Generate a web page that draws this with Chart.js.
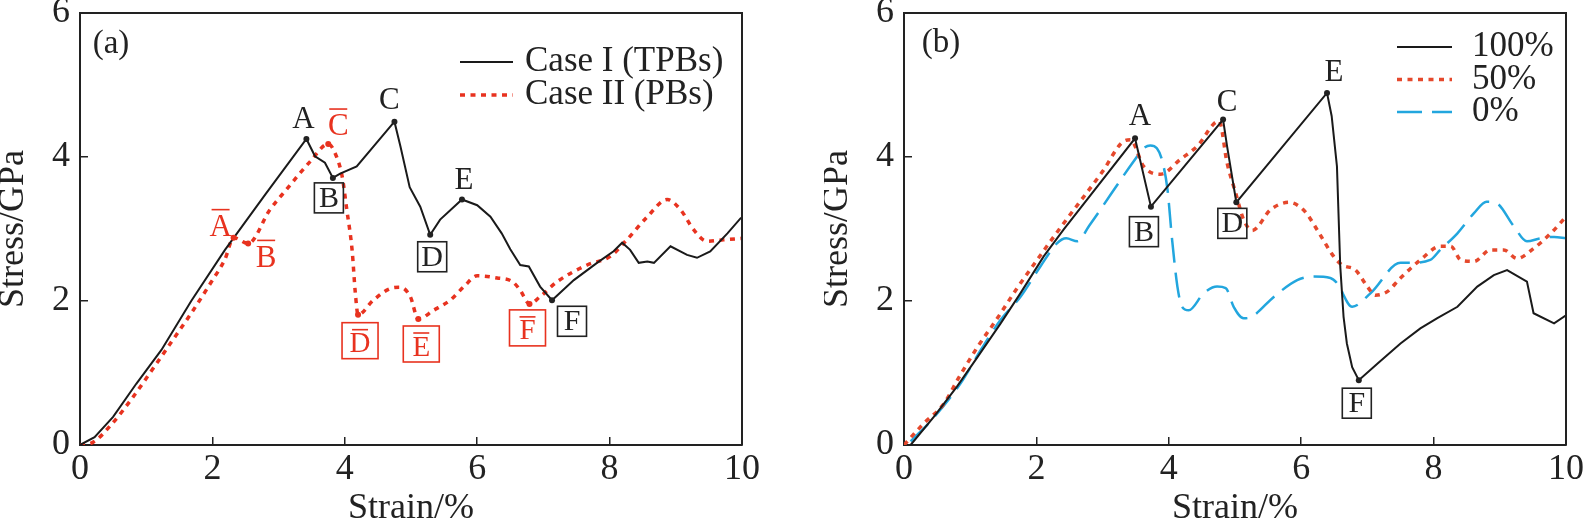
<!DOCTYPE html>
<html>
<head>
<meta charset="utf-8">
<script src="https://cdn.jsdelivr.net/npm/chart.js@4.4.0/dist/chart.umd.min.js"></script>
<style>
  html, body { margin: 0; padding: 0; background: #fff; width: 1583px; height: 521px; overflow: hidden; }
  #wrap { position: relative; width: 1583px; height: 521px; overflow: hidden; }
  .panel { position: absolute; top: 0; height: 521px; }
  .panel canvas { display: block; }
  #panelA { left: 0; width: 760px; }
  #panelB { left: 824px; width: 759px; }
</style>
</head>
<body>
<div id="wrap">
  <div class="panel" id="panelA"><canvas id="chartA"></canvas></div>
  <div class="panel" id="panelB"><canvas id="chartB"></canvas></div>
</div>
<script>
// ---- panel (a): Case I (TPBs) vs Case II (PBs)
const caseIStrain = [0, 0.22, 0.5, 0.85, 1.23, 1.68, 2.19, 2.8, 3.42, 3.55, 3.70, 3.82, 3.93, 4.18, 4.75, 4.84, 4.98, 5.14, 5.29, 5.44, 5.77, 6.0, 6.2, 6.37, 6.5, 6.65, 6.78, 6.95, 7.13, 7.46, 7.81, 8.06, 8.19, 8.31, 8.44, 8.57, 8.67, 8.92, 9.17, 9.32, 9.52, 9.78, 9.98, 10];
const caseIStress = [0, 0.11, 0.39, 0.85, 1.32, 2.0, 2.71, 3.48, 4.25, 4.01, 3.92, 3.71, 3.77, 3.87, 4.49, 4.15, 3.58, 3.31, 2.92, 3.13, 3.41, 3.33, 3.17, 2.94, 2.72, 2.50, 2.48, 2.20, 2.01, 2.29, 2.53, 2.69, 2.81, 2.71, 2.53, 2.55, 2.53, 2.76, 2.64, 2.60, 2.69, 2.94, 3.15, 3.15];

const caseIIStrain = [0, 0.2, 0.47, 0.78, 1.08, 1.38, 1.68, 1.98, 2.19, 2.32, 2.54, 2.87, 3.12, 3.48, 3.75, 3.85, 3.96, 4.03, 4.11, 4.16, 4.2, 4.43, 4.71, 4.84, 4.99, 5.11, 5.34, 5.59, 5.8, 6.0, 6.3, 6.53, 6.65, 6.79, 6.95, 7.21, 7.66, 8.01, 8.26, 8.57, 8.87, 9.07, 9.27, 9.47, 9.72, 10];
const caseIIStress = [0, 0.04, 0.28, 0.64, 1.03, 1.43, 1.83, 2.26, 2.58, 2.88, 2.80, 3.27, 3.55, 3.94, 4.18, 4.06, 3.73, 3.27, 2.71, 2.10, 1.81, 2.01, 2.18, 2.19, 2.06, 1.75, 1.87, 2.01, 2.2, 2.35, 2.32, 2.27, 2.15, 1.96, 2.06, 2.27, 2.50, 2.62, 2.85, 3.17, 3.41, 3.27, 2.99, 2.83, 2.85, 2.87];

// ---- panel (b): 100 %, 50 %, 0 %
const strain100 = [0.1, 0.45, 0.8, 1.11, 1.46, 1.76, 2.11, 2.41, 3.49, 3.73, 4.82, 4.88, 5.02, 6.39, 6.46, 6.54, 6.59, 6.64, 6.69, 6.77, 6.87, 7.15, 7.5, 7.8, 8.05, 8.36, 8.66, 8.91, 9.11, 9.41, 9.51, 9.82, 10];
const stress100 = [0, 0.39, 0.81, 1.22, 1.69, 2.11, 2.62, 2.99, 4.26, 3.31, 4.52, 4.15, 3.37, 4.89, 4.57, 3.87, 2.48, 1.78, 1.41, 1.08, 0.90, 1.13, 1.41, 1.62, 1.76, 1.92, 2.20, 2.36, 2.43, 2.27, 1.83, 1.69, 1.80];

const strain50 = [0, 0.3, 0.6, 0.83, 1.11, 1.41, 1.71, 2.01, 2.34, 3.0, 3.32, 3.42, 3.62, 3.87, 4.18, 4.43, 4.76, 4.88, 5.01, 5.13, 5.26, 5.54, 5.81, 6.05, 6.24, 6.49, 6.62, 6.82, 7.0, 7.12, 7.3, 7.5, 7.8, 8.1, 8.26, 8.41, 8.61, 8.86, 9.06, 9.26, 9.51, 9.77, 10];
const stress50 = [0, 0.3, 0.57, 0.94, 1.36, 1.76, 2.18, 2.57, 2.99, 3.8, 4.22, 4.24, 3.87, 3.76, 3.97, 4.15, 4.50, 3.92, 3.50, 3.13, 2.98, 3.27, 3.37, 3.25, 2.99, 2.62, 2.50, 2.43, 2.20, 2.08, 2.13, 2.32, 2.57, 2.76, 2.76, 2.57, 2.55, 2.71, 2.71, 2.59, 2.73, 2.94, 3.17];

const strain0 = [0.1, 0.45, 0.85, 1.16, 1.46, 1.76, 2.06, 2.31, 2.45, 2.62, 2.8, 3.47, 3.62, 3.72, 3.82, 3.9, 3.98, 4.05, 4.13, 4.2, 4.3, 4.53, 4.73, 4.86, 4.98, 5.13, 5.25, 5.59, 5.94, 6.19, 6.44, 6.54, 6.77, 7.05, 7.5, 7.65, 7.95, 8.1, 8.36, 8.61, 8.8, 8.95, 9.21, 9.41, 9.61, 9.82, 10];
const stress0 = [0.05, 0.38, 0.85, 1.32, 1.74, 2.06, 2.48, 2.8, 2.87, 2.83, 3.05, 3.94, 4.12, 4.16, 4.12, 3.95, 3.55, 2.85, 2.2, 1.92, 1.87, 2.11, 2.2, 2.18, 1.92, 1.76, 1.78, 2.06, 2.29, 2.34, 2.32, 2.25, 1.92, 2.11, 2.53, 2.53, 2.57, 2.71, 2.94, 3.22, 3.38, 3.36, 3.04, 2.83, 2.87, 2.89, 2.87];

const strainTicks = [0, 2, 4, 6, 8, 10];
const stressTicks = [0, 2, 4, 6];

const FONT = "'Liberation Serif', 'Times New Roman', serif";
const INK = '#222';
const RED = '#e8321f';
const RED_B = '#e5482c';
const BLUE = '#22a6de';

const zip = (xs, ys) => xs.map((x, i) => ({ x, y: ys[i] }));

function axes() {
  return {
    x: {
      type: 'linear', min: 0, max: 10,
      afterBuildTicks: s => { s.ticks = strainTicks.map(v => ({ value: v })); },
      ticks: { color: INK, font: { family: FONT, size: 36, lineHeight: 1 }, padding: 15 },
      grid: { drawOnChartArea: false, tickLength: -8, color: INK, lineWidth: 1.5 },
      border: { color: INK, width: 2 },
      title: { display: true, text: 'Strain/%', color: INK, font: { family: FONT, size: 36, lineHeight: 0.67 }, padding: 0 },
      afterFit: s => { s.height = 76; s.paddingLeft = 0; s.paddingRight = 0; }
    },
    y: {
      type: 'linear', min: 0, max: 6,
      afterBuildTicks: s => { s.ticks = stressTicks.map(v => ({ value: v })); },
      ticks: { color: INK, font: { family: FONT, size: 36, lineHeight: 1 }, padding: 18 },
      grid: { drawOnChartArea: false, tickLength: -8, color: INK, lineWidth: 1.5 },
      border: { color: INK, width: 2 },
      title: { display: true, text: 'Stress/GPa', color: INK, font: { family: FONT, size: 36, lineHeight: 0.78 }, padding: 0 },
      afterFit: s => { s.width = 80; s.paddingTop = 0; s.paddingBottom = 0; }
    }
  };
}

// top and right edges of the frame
const frame = {
  id: 'frame',
  afterDraw(chart) {
    const { ctx, chartArea: a } = chart;
    ctx.save();
    ctx.strokeStyle = INK;
    ctx.lineWidth = 2;
    ctx.beginPath();
    ctx.moveTo(a.left, a.top);
    ctx.lineTo(a.right, a.top);
    ctx.lineTo(a.right, a.bottom);
    ctx.stroke();
    ctx.restore();
  }
};

// legend inside the plot + panel tag
function insideLegend(cfg) {
  return {
    id: 'insideLegend',
    afterDraw(chart) {
      const { ctx, chartArea: a } = chart;
      ctx.save();
      ctx.font = '33px ' + FONT;
      ctx.fillStyle = INK;
      ctx.textAlign = 'center';
      ctx.textBaseline = 'middle';
      ctx.fillText(cfg.tag, a.left + cfg.tagX, a.top + cfg.tagY);
      chart.data.datasets.forEach((ds, i) => {
        const y = a.top + cfg.top + i * cfg.step;
        const x0 = a.right - cfg.fromRight;
        ctx.strokeStyle = ds.borderColor;
        ctx.lineWidth = ds.borderWidth;
        ctx.setLineDash(ds.borderDash || []);
        ctx.beginPath();
        ctx.moveTo(x0, y);
        ctx.lineTo(x0 + cfg.len, y);
        ctx.stroke();
        ctx.setLineDash([]);
        ctx.font = '35px ' + FONT;
        ctx.textAlign = 'left';
        ctx.fillStyle = INK;
        ctx.fillText(ds.label, x0 + cfg.len + cfg.gap, y);
      });
      ctx.restore();
    }
  };
}

// letters at the marked points of a curve
function pointLabels(items) {
  return {
    id: 'pointLabels',
    afterDatasetsDraw(chart) {
      const ctx = chart.ctx;
      ctx.save();
      ctx.textAlign = 'center';
      ctx.textBaseline = 'middle';
      items.forEach(it => {
        const ds = chart.data.datasets[it.ds];
        const idx = ds.data.findIndex(p => p.x === it.at);
        const el = chart.getDatasetMeta(it.ds).data[idx];
        if (!el) return;
        const color = it.color || INK;
        ctx.fillStyle = color;
        ctx.beginPath();
        ctx.arc(el.x, el.y, 3, 0, Math.PI * 2);
        ctx.fill();
        const cx = el.x + it.dx, cy = el.y + it.dy;
        ctx.strokeStyle = color;
        ctx.lineWidth = 1.6;
        if (it.box) {
          const w = it.bar ? 36 : 29, h = it.bar ? 36 : 30;
          ctx.strokeRect(cx - w / 2, cy - h / 2, w, h);
          if (it.bar) {
            ctx.font = '29px ' + FONT;
            ctx.fillText(it.text, cx, cy + 4);
            ctx.beginPath();
            ctx.moveTo(cx - 8, cy - 11);
            ctx.lineTo(cx + 8, cy - 11);
            ctx.stroke();
          } else {
            ctx.font = '30px ' + FONT;
            ctx.fillText(it.text, cx, cy + 1);
          }
        } else {
          ctx.font = '31px ' + FONT;
          ctx.fillText(it.text, cx, cy);
          if (it.bar) {
            ctx.beginPath();
            ctx.moveTo(cx - 9, cy - 18);
            ctx.lineTo(cx + 9, cy - 18);
            ctx.stroke();
          }
        }
      });
      ctx.restore();
    }
  };
}

Chart.defaults.animation = false;

new Chart(document.getElementById('chartA'), {
  type: 'scatter',
  data: {
    datasets: [{
      label: 'Case I (TPBs)',
      data: zip(caseIStrain, caseIStress),
      showLine: true, borderColor: '#1a1a1a', borderWidth: 2, pointRadius: 0, tension: 0
    }, {
      label: 'Case II (PBs)',
      data: zip(caseIIStrain, caseIIStress),
      showLine: true, borderColor: RED, borderWidth: 3.5, borderDash: [5, 5.5], pointRadius: 0,
      cubicInterpolationMode: 'monotone'
    }]
  },
  options: {
    responsive: true, maintainAspectRatio: false,
    layout: { padding: { top: 13, right: 18, bottom: 0, left: 0 } },
    scales: axes(),
    plugins: { legend: { display: false }, tooltip: { enabled: false } }
  },
  plugins: [frame,
    insideLegend({ tag: '(a)', tagX: 31, tagY: 31, top: 49, step: 33, fromRight: 282, len: 53, gap: 12 }),
    pointLabels([
      { ds: 0, at: 3.42, text: 'A', dx: -3, dy: -19 },
      { ds: 0, at: 3.82, text: 'B', dx: -4, dy: 20, box: true },
      { ds: 0, at: 4.75, text: 'C', dx: -5, dy: -21 },
      { ds: 0, at: 5.29, text: 'D', dx: 2, dy: 22, box: true },
      { ds: 0, at: 5.77, text: 'E', dx: 2, dy: -19 },
      { ds: 0, at: 7.13, text: 'F', dx: 20, dy: 21, box: true },
      { ds: 1, at: 2.32, text: 'A', dx: -13, dy: -10, bar: true, color: RED },
      { ds: 1, at: 2.54, text: 'B', dx: 18, dy: 15, bar: true, color: RED },
      { ds: 1, at: 3.75, text: 'C', dx: 10, dy: -17, bar: true, color: RED },
      { ds: 1, at: 4.2, text: 'D', dx: 2, dy: 26, bar: true, box: true, color: RED },
      { ds: 1, at: 5.11, text: 'E', dx: 3, dy: 25, bar: true, box: true, color: RED },
      { ds: 1, at: 6.79, text: 'F', dx: -2, dy: 24, bar: true, box: true, color: RED }
    ])
  ]
});

new Chart(document.getElementById('chartB'), {
  type: 'scatter',
  data: {
    datasets: [{
      label: '100%',
      data: zip(strain100, stress100),
      showLine: true, borderColor: '#1a1a1a', borderWidth: 2, pointRadius: 0, tension: 0
    }, {
      label: '50%',
      data: zip(strain50, stress50),
      showLine: true, borderColor: RED_B, borderWidth: 3.5, borderDash: [5, 5.5], pointRadius: 0,
      cubicInterpolationMode: 'monotone'
    }, {
      label: '0%',
      data: zip(strain0, stress0),
      showLine: true, borderColor: BLUE, borderWidth: 2.5, borderDash: [25, 10], pointRadius: 0,
      cubicInterpolationMode: 'monotone'
    }]
  },
  options: {
    responsive: true, maintainAspectRatio: false,
    layout: { padding: { top: 13, right: 17, bottom: 0, left: 0 } },
    scales: axes(),
    plugins: { legend: { display: false }, tooltip: { enabled: false } }
  },
  plugins: [frame,
    insideLegend({ tag: '(b)', tagX: 37, tagY: 30, top: 34, step: 32.5, fromRight: 169, len: 55, gap: 20 }),
    pointLabels([
      { ds: 0, at: 3.49, text: 'A', dx: 5, dy: -21 },
      { ds: 0, at: 3.73, text: 'B', dx: -7, dy: 25, box: true },
      { ds: 0, at: 4.82, text: 'C', dx: 4, dy: -17 },
      { ds: 0, at: 5.02, text: 'D', dx: -4, dy: 21, box: true },
      { ds: 0, at: 6.39, text: 'E', dx: 7, dy: -20 },
      { ds: 0, at: 6.87, text: 'F', dx: -2, dy: 23, box: true }
    ])
  ]
});
</script>
</body>
</html>
